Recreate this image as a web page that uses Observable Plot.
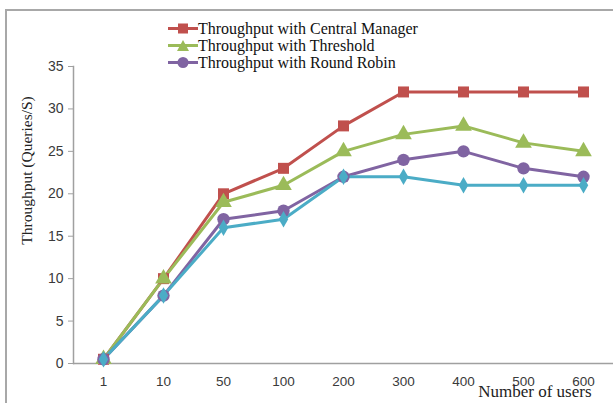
<!DOCTYPE html>
<html><head><meta charset="utf-8">
<script src="https://cdn.jsdelivr.net/npm/d3@7"></script>
<script src="https://cdn.jsdelivr.net/npm/@observablehq/plot@0.6"></script>
<style>
body{margin:0;background:#fff}
#wrap{position:relative;width:613px;height:403px;overflow:hidden;background:#fff}
#border{position:absolute;left:5px;top:9px;right:-4px;bottom:-4px;border-left:2px solid #a8a8a8;border-top:2px solid #a8a8a8;pointer-events:none}
#chart{position:absolute;left:0;top:0}
#legend{position:absolute;left:168px;top:20px;font-family:"Liberation Serif","Times New Roman",serif;font-size:16px;color:#111}
.row{display:flex;align-items:center;height:17px;white-space:nowrap}
.row svg{display:block}
</style></head><body>
<div id="wrap"><div id="chart"></div><div id="border"></div><div id="legend"></div></div>
<script>
const users = ["1","10","50","100","200","300","400","500","600"];
const centralManager = [0.5,10,20,23,28,32,32,32,32];
const threshold      = [0.5,10,19,21,25,27,28,26,25];
const roundRobin     = [0.5,8,17,18,22,24,25,23,22];
const fourthSeries   = [0.5,8,16,17,22,22,21,21,21];
const seriesNames = ["Throughput with Central Manager","Throughput with Threshold","Throughput with Round Robin","Series 4"];
const legendNames = seriesNames.slice(0,3);
const colors  = ["#C0504D","#9BBB59","#8064A2","#4BACC6"];
const symbols = ["square","triangle","circle","diamond"];
const yTicks = [0,5,10,15,20,25,30,35];

const allSeries = [centralManager, threshold, roundRobin, fourthSeries];
const data = [];
allSeries.forEach((vals, si) => vals.forEach((v, i) => data.push({users: users[i], value: v, series: seriesNames[si]})));
const mainData = data.filter(d => d.series !== seriesNames[3]);
const fourthData = data.filter(d => d.series === seriesNames[3]);

const chart = Plot.plot({
  width: 613, height: 403,
  marginLeft: 73, marginRight: 0, marginTop: 66, marginBottom: 40,
  x: {type: "point", domain: users, padding: 0.5},
  y: {domain: [0, 35]},
  color: {domain: seriesNames, range: colors},
  symbol: {domain: seriesNames, range: symbols},
  style: {fontFamily: "Liberation Sans, Arial, sans-serif", fontSize: "13px", color: "#3a3a3a", background: "transparent"},
  marks: [
    Plot.frame({anchor: "left", stroke: "#a0a0a0", strokeWidth: 1.5}),
    Plot.ruleY([0], {stroke: "#a0a0a0", strokeWidth: 1.5}),
    Plot.axisY({ticks: yTicks, tickSize: 5, tickPadding: 5, label: null, fontSize: 14, stroke: "#a0a0a0"}),
    Plot.axisX({tickSize: 0, tickPadding: 13, label: null, fontSize: 13.5}),
    Plot.line(data, {x: "users", y: "value", z: "series", stroke: "series", strokeWidth: 3}),
    Plot.dot(mainData, {x: "users", y: "value", symbol: "series", fill: "series", r: 6.2, stroke: "none"}),
    Plot.dot(fourthData, {x: "users", y: "value", symbol: "series", fill: "series", r: 5, stroke: "none"}),
    Plot.text(["Throughput (Queries/S)"], {frameAnchor: "top-left", dx: -53, dy: 104, rotate: -90, textAnchor: "middle", fontFamily: "Liberation Serif, Times New Roman, serif", fontSize: 15.5, fill: "#222"}),
    Plot.text(["Number of users"], {frameAnchor: "bottom-right", dx: -22, dy: 33, textAnchor: "end", fontFamily: "Liberation Serif, Times New Roman, serif", fontSize: 17, fill: "#222"})
  ]
});
document.getElementById("chart").appendChild(chart);

const legend = document.getElementById("legend");
const shapes = {
  square: '<rect x="10" y="3.5" width="10" height="10"/>',
  triangle: '<path d="M15 3 L21 14 L9 14 Z"/>',
  circle: '<circle cx="15" cy="8.5" r="5.5"/>'
};
legendNames.forEach((name, i) => {
  const row = document.createElement("div");
  row.className = "row";
  row.innerHTML = `<svg width="30" height="17"><line x1="0" y1="8.5" x2="30" y2="8.5" stroke="${colors[i]}" stroke-width="3"/><g fill="${colors[i]}">${shapes[symbols[i]]}</g></svg><span>${name}</span>`;
  legend.appendChild(row);
});
</script>
</body></html>
